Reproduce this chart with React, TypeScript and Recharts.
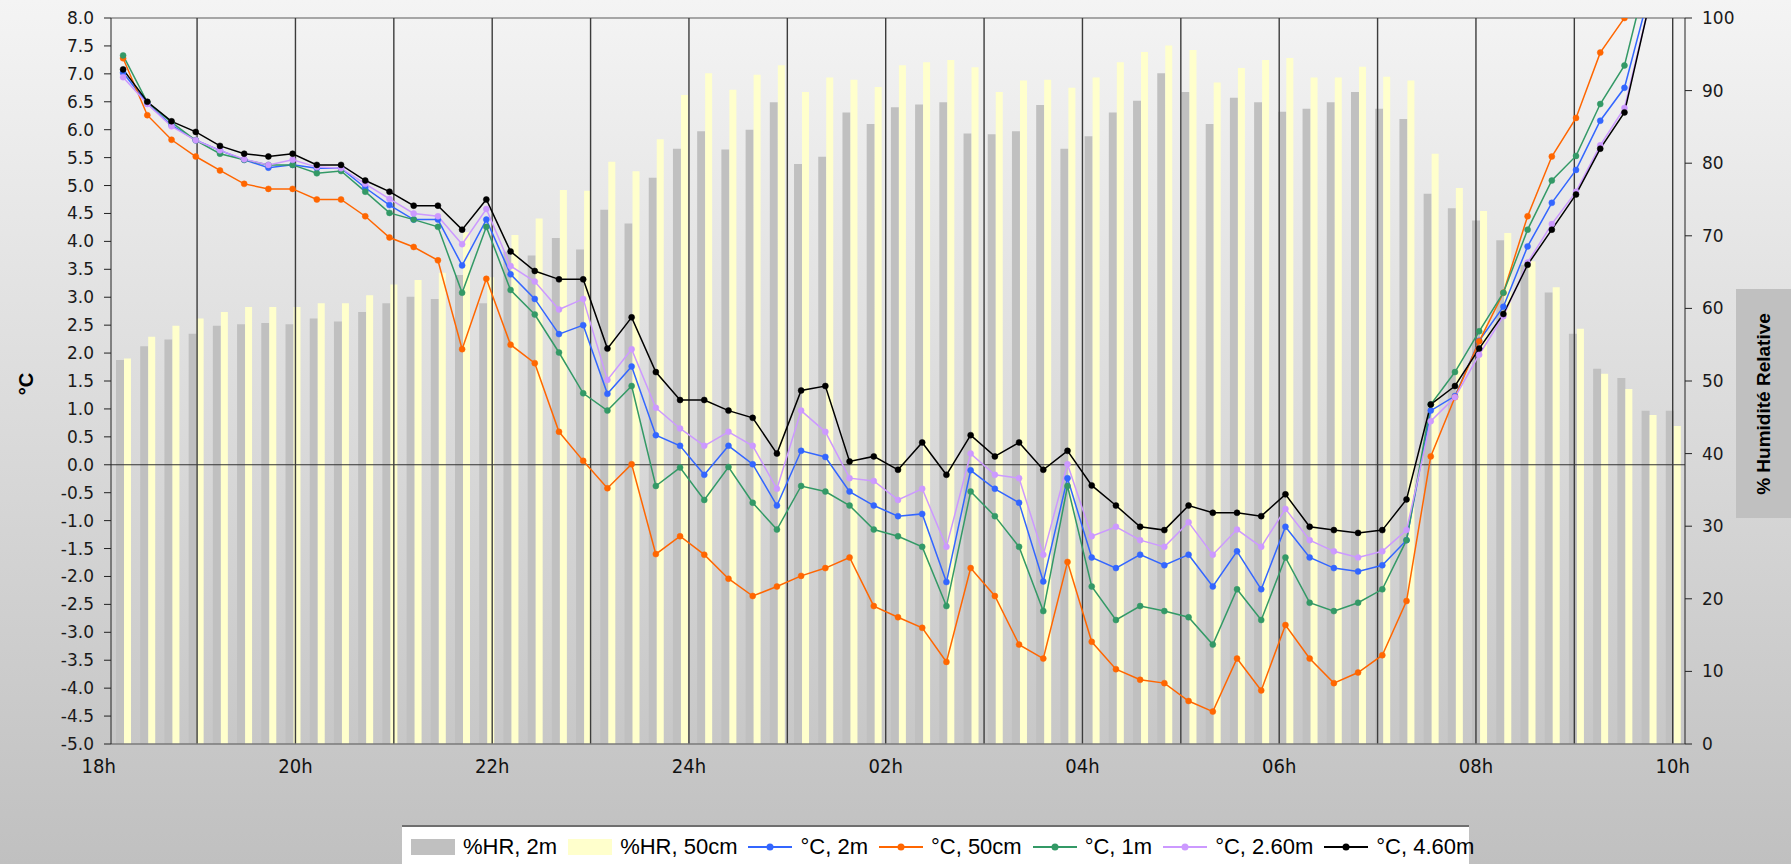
import React from "react";
import { ComposedChart, Bar, Line, XAxis, YAxis, ReferenceLine, Legend } from "recharts";

// quarter-hour readings, 18:00 -> 10:00
const times = [
  "18:00", "18:15", "18:30", "18:45", "19:00", "19:15", "19:30", "19:45",
  "20:00", "20:15", "20:30", "20:45", "21:00", "21:15", "21:30", "21:45",
  "22:00", "22:15", "22:30", "22:45", "23:00", "23:15", "23:30", "23:45",
  "00:00", "00:15", "00:30", "00:45", "01:00", "01:15", "01:30", "01:45",
  "02:00", "02:15", "02:30", "02:45", "03:00", "03:15", "03:30", "03:45",
  "04:00", "04:15", "04:30", "04:45", "05:00", "05:15", "05:30", "05:45",
  "06:00", "06:15", "06:30", "06:45", "07:00", "07:15", "07:30", "07:45",
  "08:00", "08:15", "08:30", "08:45", "09:00", "09:15", "09:30", "09:45",
  "10:00",
];

const hr2m = [
  52.9, 54.8, 55.7, 56.5, 57.6, 57.8, 58.0, 57.8, 58.6, 58.2, 59.5, 60.7,
  61.6, 61.3, 64.6, 60.7, 67.8, 67.3, 69.7, 68.1, 73.6, 71.7, 78.0, 82.0,
  84.4, 81.9, 84.6, 88.4, 79.9, 80.9, 87.0, 85.4, 87.7, 88.1, 88.4, 84.1,
  84.0, 84.4, 88.0, 82.0, 83.7, 87.0, 88.6, 92.4, 89.8, 85.4, 89.0, 88.4,
  87.1, 87.5, 88.4, 89.8, 87.5, 86.1, 75.8, 73.8, 72.1, 69.4, 66.0, 62.2,
  56.5, 51.7, 50.4, 45.9, 45.9,
];
const hr50cm = [
  53.1, 56.1, 57.6, 58.6, 59.5, 60.2, 60.2, 60.2, 60.7, 60.7, 61.8, 63.3,
  63.9, 64.9, 70.5, 64.3, 70.1, 72.4, 76.3, 76.2, 80.2, 78.9, 83.3, 89.4,
  92.4, 90.1, 92.2, 93.5, 89.8, 91.8, 91.5, 90.5, 93.5, 93.9, 94.2, 93.2,
  89.8, 91.4, 91.5, 90.4, 91.8, 93.9, 95.3, 96.2, 95.6, 91.1, 93.1, 94.2,
  94.5, 91.8, 91.8, 93.3, 91.9, 91.4, 81.3, 76.6, 73.4, 70.4, 66.5, 62.9,
  57.2, 51.0, 48.9, 45.3, 43.8,
];
const t2m = [
  7.02, 6.47, 6.08, 5.81, 5.63, 5.46, 5.32, 5.37, 5.31, 5.31, 4.96, 4.65,
  4.39, 4.39, 3.57, 4.39, 3.41, 2.97, 2.34, 2.5, 1.27, 1.76, 0.53, 0.34,
  -0.18, 0.34, 0.01, -0.73, 0.25, 0.14, -0.48, -0.73, -0.92, -0.88, -2.1, -0.1,
  -0.43, -0.68, -2.09, -0.24, -1.66, -1.85, -1.61, -1.8, -1.61, -2.18, -1.55, -2.23,
  -1.11, -1.66, -1.85, -1.91, -1.8, -1.35, 0.97, 1.23, 2.22, 2.83, 3.91, 4.69,
  5.28, 6.16, 6.75, 8.4, 9.8,
];
const t50cm = [
  7.28, 6.26, 5.82, 5.52, 5.27, 5.03, 4.94, 4.94, 4.75, 4.75, 4.45, 4.07,
  3.9, 3.66, 2.07, 3.33, 2.15, 1.82, 0.59, 0.07, -0.42, 0.01, -1.6, -1.28,
  -1.61, -2.04, -2.35, -2.18, -1.99, -1.85, -1.66, -2.53, -2.73, -2.92, -3.53, -1.85,
  -2.35, -3.22, -3.47, -1.74, -3.17, -3.66, -3.85, -3.91, -4.23, -4.42, -3.47, -4.04,
  -2.87, -3.47, -3.91, -3.72, -3.41, -2.44, 0.15, 1.21, 2.21, 3.08, 4.45, 5.52,
  6.21, 7.38, 8.0, 9.2, 10.4,
];
const t1m = [
  7.33, 6.49, 6.13, 5.81, 5.57, 5.46, 5.37, 5.37, 5.22, 5.26, 4.89, 4.51,
  4.39, 4.26, 3.08, 4.26, 3.13, 2.69, 2.01, 1.28, 0.97, 1.41, -0.38, -0.05,
  -0.63, -0.04, -0.68, -1.16, -0.38, -0.48, -0.73, -1.16, -1.28, -1.47, -2.53, -0.48,
  -0.92, -1.47, -2.62, -0.38, -2.18, -2.78, -2.53, -2.62, -2.73, -3.22, -2.23, -2.78,
  -1.66, -2.47, -2.62, -2.47, -2.23, -1.35, 1.08, 1.66, 2.39, 3.08, 4.21, 5.09,
  5.53, 6.46, 7.15, 8.9, 10.0,
];
const t260 = [
  6.94, 6.46, 6.06, 5.81, 5.63, 5.47, 5.37, 5.46, 5.33, 5.31, 5.03, 4.76,
  4.5, 4.45, 3.95, 4.58, 3.56, 3.28, 2.78, 2.97, 1.52, 2.07, 1.02, 0.65,
  0.34, 0.59, 0.34, -0.43, 0.97, 0.59, -0.24, -0.29, -0.63, -0.43, -1.47, 0.2,
  -0.18, -0.24, -1.61, 0.01, -1.28, -1.11, -1.35, -1.47, -1.03, -1.61, -1.16, -1.47,
  -0.79, -1.35, -1.55, -1.66, -1.55, -1.17, 0.78, 1.21, 1.97, 2.66, 3.62, 4.31,
  4.89, 5.72, 6.39, 8.2, 9.5,
];
const t460 = [
  7.08, 6.5, 6.15, 5.96, 5.71, 5.57, 5.52, 5.57, 5.37, 5.37, 5.09, 4.89,
  4.64, 4.64, 4.21, 4.75, 3.82, 3.47, 3.32, 3.32, 2.08, 2.64, 1.66, 1.16,
  1.16, 0.97, 0.84, 0.2, 1.33, 1.41, 0.06, 0.15, -0.09, 0.4, -0.18, 0.53,
  0.15, 0.4, -0.09, 0.25, -0.37, -0.73, -1.11, -1.17, -0.73, -0.86, -0.86, -0.92,
  -0.53, -1.11, -1.17, -1.22, -1.17, -0.62, 1.08, 1.41, 2.08, 2.7, 3.58, 4.21,
  4.84, 5.66, 6.31, 8.2, 9.6,
];

const tempTicks = [
  -5, -4.5, -4, -3.5, -3, -2.5, -2, -1.5, -1, -0.5, 0, 0.5, 1, 1.5,
  2, 2.5, 3, 3.5, 4, 4.5, 5, 5.5, 6, 6.5, 7, 7.5, 8,
];
const hrTicks = [0, 10, 20, 30, 40, 50, 60, 70, 80, 90, 100];
const hourLabels = ["18h", "20h", "22h", "24h", "02h", "04h", "06h", "08h", "10h"];
const hourPos = [-0.5, 7.5, 15.5, 23.5, 31.5, 39.5, 47.5, 55.5, 63.5];
const hourGrid = [3.5, 7.5, 11.5, 15.5, 19.5, 23.5, 27.5, 31.5, 35.5, 39.5, 43.5, 47.5, 51.5, 55.5, 59.5, 63.5];

const data = times.map((t, i) => ({
  t,
  hr2m: hr2m[i],
  hr50cm: hr50cm[i],
  t2m: t2m[i],
  t50cm: t50cm[i],
  t1m: t1m[i],
  t260: t260[i],
  t460: t460[i],
}));

const lines = [
  { key: "t2m", name: "°C, 2m", color: "#3366ff" },
  { key: "t50cm", name: "°C, 50cm", color: "#ff6600" },
  { key: "t1m", name: "°C, 1m", color: "#339966" },
  { key: "t260", name: "°C, 2.60m", color: "#cc99ff" },
  { key: "t460", name: "°C, 4.60m", color: "#000000" },
];

const legendItems = [
  { name: "%HR, 2m", color: "#c0c0c0", box: true },
  { name: "%HR, 50cm", color: "#ffffcc", box: true },
  ...lines.map((l) => ({ name: l.name, color: l.color, box: false })),
];

const LegendBox = () => (
  <div
    style={{
      width: 1067,
      height: 42,
      background: "#ffffff",
      borderTop: "2px solid #6f6f6f",
      boxSizing: "border-box",
      display: "flex",
      alignItems: "center",
      paddingLeft: 9,
      fontFamily: "'Liberation Sans', Arial, sans-serif",
      fontSize: 22,
      color: "#000",
      whiteSpace: "nowrap",
    }}
  >
    {legendItems.map((it) => (
      <div key={it.name} style={{ display: "flex", alignItems: "center", marginRight: 11 }}>
        {it.box ? (
          <div style={{ width: 44, height: 16, background: it.color }} />
        ) : (
          <svg width={44} height={10}>
            <line x1={0} y1={5} x2={44} y2={5} stroke={it.color} strokeWidth={2} />
            <circle cx={22} cy={5} r={3.5} fill={it.color} />
          </svg>
        )}
        <span style={{ marginLeft: 8 }}>{it.name}</span>
      </div>
    ))}
  </div>
);

const tickFont = { fontFamily: "'DejaVu Sans', sans-serif", fontSize: 17, fill: "#1a1a1a" };

export default function App() {
  return (
    <div
      style={{
        position: "absolute",
        left: 0,
        top: 0,
        width: 1791,
        height: 864,
        overflow: "hidden",
        background: "linear-gradient(#f4f4f4, #c0c0c0)",
      }}
    >
      <ComposedChart
        width={1791}
        height={864}
        data={data}
        margin={{ top: 18, right: 26, left: 31, bottom: 0 }}
        barGap={0}
      >
        <XAxis xAxisId="cat" dataKey="t" hide height={0} />
        <XAxis
          xAxisId="num"
          type="number"
          domain={[-0.5, 64.5]}
          allowDataOverflow
          ticks={hourPos}
          interval={0}
          tickFormatter={(v: number, i: number) => hourLabels[i]}
          tickLine={false}
          tickSize={0}
          tickMargin={15}
          height={78}
          axisLine={{ stroke: "#7a7a7a", strokeWidth: 1.5 }}
          tick={{ fontFamily: "'Liberation Sans Narrow', 'DejaVu Sans Condensed', sans-serif", fontSize: 20, fill: "#111" }}
        />
        <XAxis
          xAxisId="tk"
          type="number"
          domain={[-0.5, 64.5]}
          allowDataOverflow
          ticks={hourGrid}
          interval={0}
          mirror
          height={0}
          tick={false}
          tickSize={7}
          axisLine={false}
          tickLine={{ stroke: "#555" }}
        />
        <YAxis
          yAxisId="t"
          domain={[-5, 8]}
          allowDataOverflow
          ticks={tempTicks}
          interval={0}
          width={80}
          tickSize={7}
          tickMargin={10}
          tickFormatter={(v: number) => v.toFixed(1)}
          tick={tickFont}
          axisLine={{ stroke: "#222" }}
          tickLine={{ stroke: "#222" }}
        />
        <YAxis
          yAxisId="hr"
          orientation="right"
          domain={[0, 100]}
          ticks={hrTicks}
          interval={0}
          width={80}
          tickSize={7}
          tickMargin={10}
          tick={tickFont}
          axisLine={{ stroke: "#222" }}
          tickLine={{ stroke: "#222" }}
        />

        <Bar xAxisId="cat" yAxisId="hr" dataKey="hr2m" name="%HR, 2m" fill="#c0c0c0" barSize={8} isAnimationActive={false} />
        <Bar xAxisId="cat" yAxisId="hr" dataKey="hr50cm" name="%HR, 50cm" fill="#ffffcc" barSize={7} isAnimationActive={false} />

        <ReferenceLine xAxisId="num" yAxisId="t" y={8} stroke="#8c8c8c" strokeWidth={1.5} />
        <ReferenceLine xAxisId="num" yAxisId="t" y={0} stroke="#333" strokeWidth={1.2} />
        {hourGrid.map((x) => (
          <ReferenceLine key={x} xAxisId="num" yAxisId="t" x={x} stroke="#3c3c3c" strokeWidth={1.4} />
        ))}

        {lines.map((l) => (
          <Line
            key={l.key}
            xAxisId="cat"
            yAxisId="t"
            dataKey={l.key}
            name={l.name}
            stroke={l.color}
            strokeWidth={1.5}
            dot={{ r: 3, fill: l.color, stroke: l.color, strokeWidth: 0.5 }}
            isAnimationActive={false}
          />
        ))}

        <Legend
          layout="vertical"
          align="center"
          verticalAlign="bottom"
          content={() => <LegendBox />}
          wrapperStyle={{ left: 402, top: 825, bottom: "auto", width: 1067, height: 42 }}
        />
      </ComposedChart>

      <div
        style={{
          position: "absolute",
          left: 26,
          top: 384,
          transform: "translate(-50%, -50%) rotate(-90deg)",
          fontFamily: "'Liberation Sans', Arial, sans-serif",
          fontWeight: "bold",
          fontSize: 20,
          whiteSpace: "nowrap",
        }}
      >
        °C
      </div>
      <div
        style={{
          position: "absolute",
          left: 1736,
          top: 289,
          width: 56,
          height: 229,
          background: "#c0c0c0",
        }}
      >
        <div
          style={{
            position: "absolute",
            left: "50%",
            top: "50%",
            transform: "translate(-50%, -50%) rotate(-90deg)",
            fontFamily: "'Liberation Sans', Arial, sans-serif",
            fontWeight: "bold",
            fontSize: 19,
            whiteSpace: "nowrap",
          }}
        >
          % Humidité Relative
        </div>
      </div>
    </div>
  );
}
